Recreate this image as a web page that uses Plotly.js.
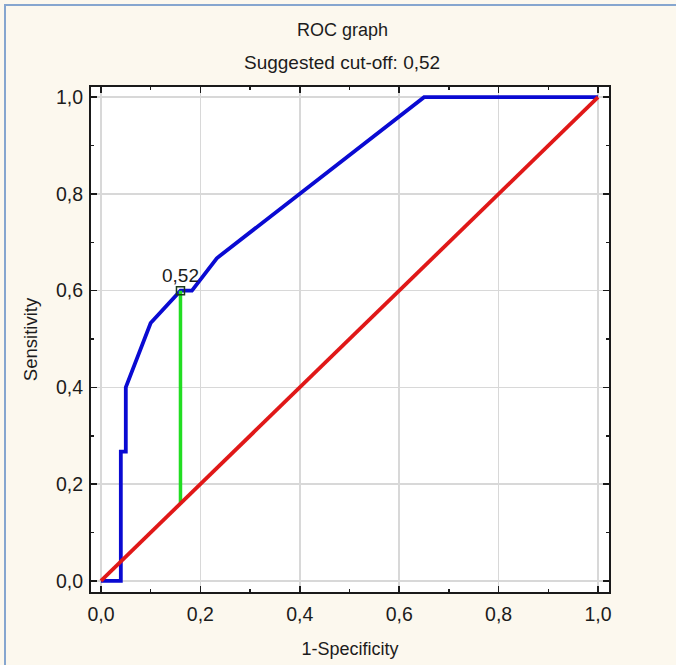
<!DOCTYPE html>
<html>
<head>
<meta charset="utf-8">
<script src="https://cdn.plot.ly/plotly-3.0.1.min.js"></script>
<style>
html,body{margin:0;padding:0;background:#fcf8ee;overflow:hidden;width:676px;height:665px;}
#bl{position:absolute;left:4px;top:4px;width:2px;height:661px;background:#86a6cf;}
#bt{position:absolute;left:4px;top:4px;width:672px;height:2px;background:#86a6cf;}
#chart{position:absolute;left:0;top:0;width:676px;height:665px;}
</style>
</head>
<body>
<div id="bl"></div>
<div id="bt"></div>
<div id="chart"></div>
<script>
// ROC curve (1-Specificity, Sensitivity)
var rocFpr = [0, 0.04, 0.04, 0.05, 0.05, 0.10, 0.16, 0.183, 0.233, 0.65, 1.0];
var rocTpr = [0, 0, 0.267, 0.267, 0.40, 0.533, 0.60, 0.60, 0.667, 1.0, 1.0];
// reference diagonal
var diagX = [0, 1];
var diagY = [0, 1];
// suggested cut-off
var cutX = [0.16, 0.16];
var cutY = [0.60, 0.16];
var cutLabel = '0,52';
var tickVals = [0, 0.2, 0.4, 0.6, 0.8, 1.0];
var tickText = ['0,0', '0,2', '0,4', '0,6', '0,8', '1,0'];

var FONT = 'Liberation Sans, Arial, sans-serif';
var TXT = '#1c1c1c';

var traces = [
  {x: rocFpr, y: rocTpr, mode: 'lines', line: {color: '#0a0ad2', width: 3.8}, hoverinfo: 'skip'},
  {x: cutX, y: cutY, mode: 'lines', line: {color: '#22dd22', width: 3.5}, hoverinfo: 'skip'},
  {x: [cutX[0]], y: [cutY[0]], mode: 'markers', marker: {symbol: 'square-open', size: 8, color: '#1a3a1a', line: {width: 1.5}}, hoverinfo: 'skip'},
  {x: diagX, y: diagY, mode: 'lines', line: {color: '#e01818', width: 3.8}, hoverinfo: 'skip'}
];

var axisCommon = {
  showline: true, linecolor: '#1a1a1a', linewidth: 2, mirror: 'allticks',
  ticks: 'inside', ticklen: 6, tickwidth: 1.5, tickcolor: '#1a1a1a',
  showgrid: true, gridcolor: '#d8d8d8', gridwidth: 1.5,
  zeroline: false,
  tickvals: tickVals, ticktext: tickText,
  tickfont: {family: FONT, size: 19.5, color: TXT},
  minor: {tickvals: [0.1, 0.3, 0.5, 0.7, 0.9], ticks: 'inside', ticklen: 3, tickwidth: 1.5, tickcolor: '#1a1a1a', showgrid: false}
};

var layout = {
  width: 676, height: 665,
  paper_bgcolor: 'rgba(0,0,0,0)',
  plot_bgcolor: '#ffffff',
  showlegend: false,
  margin: {l: 91, r: 67, t: 87, b: 73},
  xaxis: Object.assign({}, axisCommon, {
    range: [-0.02, 1.022],
    ticklabelstandoff: 4,
    title: {text: '1-Specificity', font: {family: FONT, size: 18, color: TXT}, standoff: 18}
  }),
  yaxis: Object.assign({}, axisCommon, {
    range: [-0.023, 1.021],
    ticklabelstandoff: 2,
    title: {text: 'Sensitivity', font: {family: FONT, size: 18.5, color: TXT}, standoff: 14}
  }),
  annotations: [
    {xref: 'paper', yref: 'paper', x: 0.4846, y: 1, yshift: 57, text: 'ROC graph', showarrow: false, font: {family: FONT, size: 18, color: TXT}, yanchor: 'middle'},
    {xref: 'paper', yref: 'paper', x: 0.4846, y: 1, yshift: 25, text: 'Suggested cut-off: 0,52', showarrow: false, font: {family: FONT, size: 19, color: TXT}, yanchor: 'middle'},
    {x: cutX[0], y: cutY[0], text: cutLabel, showarrow: false, yshift: 15, font: {family: FONT, size: 19, color: TXT}}
  ]
};

Plotly.newPlot('chart', traces, layout, {staticPlot: true, displayModeBar: false});
</script>
</body>
</html>
